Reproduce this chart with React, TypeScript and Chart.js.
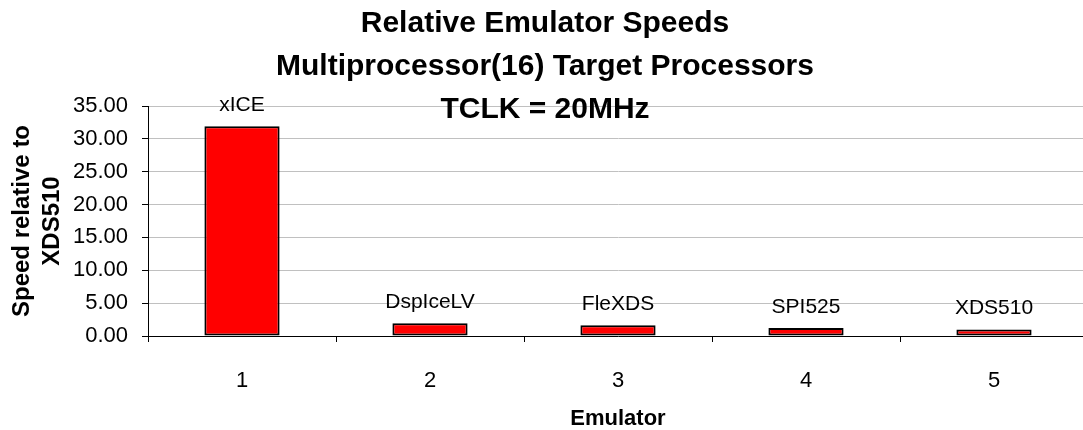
import React, { useEffect, useRef } from "react";
import { Chart, registerables } from "chart.js";

Chart.register(...registerables);

const categories = ["1", "2", "3", "4", "5"];
const emulatorNames = ["xICE", "DspIceLV", "FleXDS", "SPI525", "XDS510"];
const speeds = [31.9, 1.95, 1.62, 1.23, 1.0];
const titleLines = [
  "Relative Emulator Speeds",
  "Multiprocessor(16) Target Processors",
  "TCLK = 20MHz",
];
const yTitleLines = ["Speed relative to", "XDS510"];
const xTitle = "Emulator";

const FONT = "'Liberation Sans', Arial, sans-serif";

const titlePlugin = {
  id: "multiTitle",
  afterDraw(chart: any) {
    const ctx = chart.ctx;
    ctx.save();
    ctx.font = `bold 30px ${FONT}`;
    ctx.fillStyle = "#000";
    ctx.textAlign = "center";
    ctx.textBaseline = "alphabetic";
    const baselines = [32, 75, 118];
    titleLines.forEach((t, i) => ctx.fillText(t, 545, baselines[i]));
    ctx.restore();
  },
};

const barLabelPlugin = {
  id: "barLabels",
  afterDatasetsDraw(chart: any) {
    const ctx = chart.ctx;
    const meta = chart.getDatasetMeta(0);
    ctx.save();
    ctx.font = `21px ${FONT}`;
    ctx.fillStyle = "#000";
    ctx.textAlign = "center";
    ctx.textBaseline = "middle";
    meta.data.forEach((bar: any, i: number) => {
      ctx.fillText(emulatorNames[i], bar.x, bar.y - 21);
    });
    ctx.restore();
  },
};

export default function App() {
  const ref = useRef<HTMLCanvasElement>(null);
  useEffect(() => {
    if (!ref.current) return;
    const chart = new Chart(ref.current, {
      type: "bar",
      data: {
        labels: categories,
        datasets: [
          {
            data: speeds,
            backgroundColor: "#FF0000",
            borderColor: "#000000",
            borderWidth: 2,
            borderSkipped: false,
            barPercentage: 0.4,
            categoryPercentage: 1.0,
          },
        ],
      },
      options: {
        animation: false,
        responsive: false,
        devicePixelRatio: 1,
        layout: { padding: { top: 106, left: 0, right: 2, bottom: 0 } },
        plugins: {
          legend: { display: false },
          title: { display: false },
          tooltip: { enabled: false },
        },
        scales: {
          x: {
            afterFit: (s: any) => {
              s.height = 94;
            },
            grid: {
              display: true,
              drawOnChartArea: false,
              offset: true,
              tickLength: 6,
              tickColor: "#000",
            },
            border: { color: "#000", width: 1 },
            ticks: {
              color: "#000",
              font: { family: FONT, size: 22 },
              padding: 26,
            },
            title: {
              display: true,
              text: xTitle,
              color: "#000",
              font: { family: FONT, size: 22, weight: "bold", lineHeight: 1.0 },
              padding: { top: 0, bottom: 0 },
            },
          },
          y: {
            min: 0,
            max: 35,
            afterFit: (s: any) => {
              s.width = 148;
            },
            grid: {
              color: "#C0C0C0",
              lineWidth: 1,
              tickLength: 6,
              tickColor: "#000",
            },
            border: { color: "#000", width: 1 },
            ticks: {
              stepSize: 5,
              color: "#000",
              font: { family: FONT, size: 22 },
              padding: 14,
              callback: (v: any) => Number(v).toFixed(2),
            },
            title: {
              display: true,
              text: yTitleLines,
              color: "#000",
              font: { family: FONT, size: 24, weight: "bold", lineHeight: 1.25 },
              padding: { top: 7, bottom: 0 },
            },
          },
        },
      },
      plugins: [titlePlugin, barLabelPlugin],
    });
    return () => chart.destroy();
  }, []);

  return (
    <div
      style={{
        position: "fixed",
        left: 0,
        top: 0,
        width: 1083,
        height: 430,
        overflow: "hidden",
        background: "#fff",
      }}
    >
      <canvas ref={ref} width={1090} height={430} />
    </div>
  );
}
